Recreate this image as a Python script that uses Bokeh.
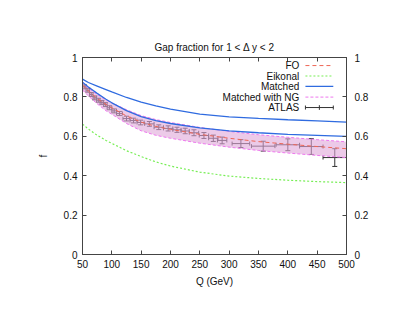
from bokeh.plotting import figure
from bokeh.models import (LinearAxis, Range1d, Whisker, TeeHead, ColumnDataSource,
                          FixedTicker, Label)
from bokeh.embed import file_html
from bokeh.resources import INLINE

# ---------------- data ----------------
q_curve = [50, 60, 75, 90, 100, 125, 150, 175, 200, 250, 300, 350, 400, 450, 500]
fo = [0.860, 0.830, 0.792, 0.762, 0.745, 0.703, 0.672, 0.650, 0.635, 0.610, 0.590, 0.573, 0.560, 0.548, 0.537]
eikonal = [0.662, 0.637, 0.605, 0.579, 0.564, 0.527, 0.497, 0.470, 0.449, 0.418, 0.398, 0.386, 0.377, 0.370, 0.365]
matched_hi = [0.890, 0.873, 0.855, 0.837, 0.825, 0.797, 0.773, 0.754, 0.738, 0.713, 0.699, 0.691, 0.684, 0.678, 0.672]
matched_lo = [0.875, 0.850, 0.818, 0.788, 0.770, 0.730, 0.700, 0.680, 0.665, 0.643, 0.628, 0.618, 0.610, 0.605, 0.600]
ng_hi = [0.875, 0.845, 0.812, 0.785, 0.770, 0.735, 0.705, 0.685, 0.670, 0.645, 0.625, 0.608, 0.595, 0.583, 0.572]
ng_lo = [0.835, 0.805, 0.765, 0.730, 0.712, 0.665, 0.628, 0.605, 0.590, 0.565, 0.545, 0.528, 0.515, 0.503, 0.492]

atlas_q = [53, 59, 65, 71, 77, 83, 89, 96, 104, 113, 125, 137, 149, 164, 180, 196, 211, 225, 240, 257, 273, 288, 320, 358, 400, 440, 480]
atlas_dq = [3, 3, 3, 3, 3, 3, 3, 4, 4, 5, 6, 6, 6, 8, 8, 8, 7, 7, 8, 8, 8, 8, 15, 20, 20, 20, 20]
atlas_f = [0.851, 0.834, 0.812, 0.795, 0.783, 0.772, 0.761, 0.745, 0.729, 0.716, 0.690, 0.680, 0.670, 0.663, 0.646,
           0.640, 0.633, 0.627, 0.618, 0.604, 0.590, 0.579, 0.563, 0.550, 0.557, 0.548, 0.492]
atlas_df = [0.010, 0.010, 0.010, 0.010, 0.010, 0.010, 0.010, 0.010, 0.010, 0.010, 0.012, 0.012, 0.012, 0.012, 0.012,
            0.013, 0.013, 0.014, 0.015, 0.015, 0.016, 0.017, 0.020, 0.025, 0.030, 0.040, 0.045]

legend_labels = ["FO", "Eikonal", "Matched", "Matched with NG", "ATLAS"]
x_ticks = [50, 100, 150, 200, 250, 300, 350, 400, 450, 500]
y_ticks = [0, 0.2, 0.4, 0.6, 0.8, 1]
y_tick_labels = ["0", "0.2", "0.4", "0.6", "0.8", "1"]

FONT = "Liberation Sans"
AX = "#444444"

p = figure(width=403, height=310, output_backend="svg", toolbar_location=None,
           x_range=Range1d(50, 500), y_range=Range1d(0, 1),
           min_border_left=82, min_border_right=57, min_border_top=57, min_border_bottom=56,
           title="Gap fraction for 1 < \u0394 y < 2")
p.title.align = "center"
p.title.text_font = FONT
p.title.text_font_size = "10px"
p.title.text_font_style = "normal"
p.title.text_color = "#111111"
p.title.standoff = 10
p.grid.visible = False
p.outline_line_color = AX
p.background_fill_color = "white"
p.border_fill_color = "white"

def style_axis(ax, ticks, labels=True):
    ax.ticker = FixedTicker(ticks=ticks)
    ax.major_tick_in = 4
    ax.major_tick_out = 0
    ax.minor_tick_line_color = None
    ax.axis_line_color = AX
    ax.major_tick_line_color = AX
    ax.major_label_text_font = FONT
    ax.major_label_text_font_size = "10px"
    ax.major_label_text_color = "#111111"
    ax.axis_label_text_font = FONT
    ax.axis_label_text_font_size = "10px"
    ax.axis_label_text_font_style = "normal"
    ax.axis_label_text_color = "#111111"
    if not labels:
        ax.major_label_text_color = None
        ax.major_label_text_font_size = "1px"
        ax.major_label_standoff = 0

style_axis(p.xaxis[0], x_ticks)
style_axis(p.yaxis[0], y_ticks)
p.xaxis[0].axis_label = "Q (GeV)"
p.xaxis[0].axis_label_standoff = 5
p.xaxis[0].major_label_standoff = 5
p.yaxis[0].axis_label = "f"
p.yaxis[0].axis_label_standoff = 12
p.yaxis[0].major_label_standoff = 5
p.yaxis[0].major_label_overrides = dict(zip(y_ticks, y_tick_labels))

right = LinearAxis()
style_axis(right, y_ticks)
right.major_label_overrides = dict(zip(y_ticks, y_tick_labels))
right.major_label_standoff = 8
p.add_layout(right, "right")

top = LinearAxis()
style_axis(top, x_ticks, labels=False)
p.add_layout(top, "above")

# ---------------- curves ----------------
PINK_FILL = "#dfa6d9"
PINK_LINE = "#ee77ee"
BLUE = "#2f6be0"
GREEN = "#77ee55"
RED = "#ee6655"

p.varea(x=q_curve, y1=ng_lo, y2=ng_hi, fill_color=PINK_FILL, fill_alpha=0.6)
p.line(q_curve, ng_hi, line_color=PINK_LINE, line_width=1, line_dash="3 2")
p.line(q_curve, ng_lo, line_color=PINK_LINE, line_width=1, line_dash="3 2")
p.line(q_curve, fo, line_color=RED, line_width=1, line_dash="4 3")
p.line(q_curve, eikonal, line_color=GREEN, line_width=1.2, line_dash="2 2")
p.line(q_curve, matched_hi, line_color=BLUE, line_width=1.3)
p.line(q_curve, matched_lo, line_color=BLUE, line_width=1.3)

# ---------------- ATLAS data ----------------
src = ColumnDataSource(dict(
    q=atlas_q, f=atlas_f,
    qlo=[a - b for a, b in zip(atlas_q, atlas_dq)],
    qhi=[a + b for a, b in zip(atlas_q, atlas_dq)],
    flo=[a - b for a, b in zip(atlas_f, atlas_df)],
    fhi=[a + b for a, b in zip(atlas_f, atlas_df)],
))
DATA = "#333333"
wv = Whisker(source=src, base="q", lower="flo", upper="fhi", dimension="height",
             line_color=DATA, line_width=1,
             upper_head=TeeHead(size=5, line_color=DATA, line_width=1),
             lower_head=TeeHead(size=5, line_color=DATA, line_width=1))
wh = Whisker(source=src, base="f", lower="qlo", upper="qhi", dimension="width",
             line_color=DATA, line_width=1,
             upper_head=TeeHead(size=4, line_color=DATA, line_width=1),
             lower_head=TeeHead(size=4, line_color=DATA, line_width=1))
p.add_layout(wv)
p.add_layout(wh)

# ---------------- key (gnuplot style: text then sample) ----------------
key_y = [0.959, 0.906, 0.853, 0.799, 0.746]
kx_text, kx0, kx1 = 419.5, 430, 477.5
for lab, ky in zip(legend_labels, key_y):
    p.add_layout(Label(x=kx_text, y=ky, text=lab, text_align="right", text_baseline="middle",
                       text_font=FONT, text_font_size="10px", text_color="#111111"))
p.line([kx0, kx1], [key_y[0]] * 2, line_color=RED, line_width=1, line_dash="4 3")
p.line([kx0, kx1], [key_y[1]] * 2, line_color=GREEN, line_width=1.2, line_dash="2 2")
p.line([kx0, kx1], [key_y[2]] * 2, line_color=BLUE, line_width=1.3)
p.line([kx0, kx1], [key_y[3]] * 2, line_color=PINK_LINE, line_width=1, line_dash="3 2")
ksrc = ColumnDataSource(dict(b=[key_y[4]], lo=[kx0], hi=[kx1]))
p.add_layout(Whisker(source=ksrc, base="b", lower="lo", upper="hi", dimension="width",
                     line_color=DATA, line_width=1,
                     upper_head=TeeHead(size=4, line_color=DATA, line_width=1),
                     lower_head=TeeHead(size=4, line_color=DATA, line_width=1)))
p.segment(x0=[(kx0 + kx1) / 2], y0=[key_y[4] - 0.012], x1=[(kx0 + kx1) / 2], y1=[key_y[4] + 0.012],
          line_color=DATA, line_width=1)

open("out.html", "w").write(file_html(p, INLINE))
